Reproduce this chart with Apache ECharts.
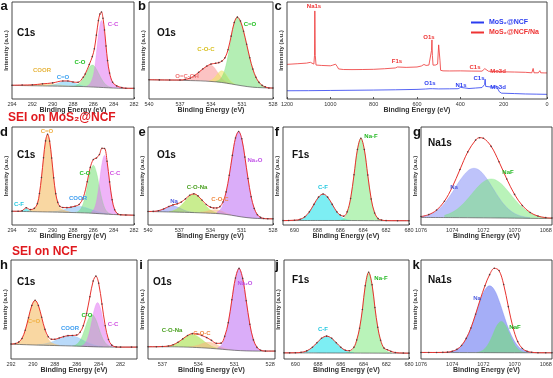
<!DOCTYPE html>
<html><head><meta charset="utf-8"><title>XPS</title>
<script src="https://cdn.jsdelivr.net/npm/echarts@6.0.0/dist/echarts.min.js"></script>
<style>html,body{margin:0;padding:0;background:#fff;}#chart{width:553px;height:378px;}</style>
</head><body><div id="chart"></div>
<script>
// ===================== DATA (binding energy eV, intensity a.u. 0-100) =====================
// (a) C1s MoS2@NCF
const aBg   = [[294,14],[292,13.7],[290,13.3],[288,13],[287,12.8],[286,12.3],[285,11.8],[284,11.3],[283,11],[282,11]];
const aEnv  = [[294,14.2],[293,14.4],[292,14.6],[291,15.6],[290,16.6],[289,18.6],[288.5,18.6],[288,17.5],[287.5,17.2],[287,22.4],[286.8,25.8],[286.4,35.5],[286.1,43.7],[285.9,51.7],[285.7,65.8],[285.5,80.8],[285.35,87.7],[285.2,89.7],[285.05,83.2],[284.9,71.1],[284.75,54.6],[284.6,39.6],[284.4,26.7],[284.1,17.2],[283.7,13.5],[283.2,11.8],[282.8,11.1],[282,11]];
const aCOOR = [[293,13.9],[292.3,14.1],[291.7,14.9],[291.1,15.6],[290.5,15.8],[289.9,15.3],[289.3,14.4],[288.7,13.6],[288,13.1]];
const aCdO  = [[290.6,13.5],[290.2,14],[289.8,15],[289.4,16.4],[289,18],[288.6,18.5],[288.2,17.9],[287.8,16.3],[287.4,14.7],[287,13.5],[286.6,12.8]];
const aCO   = [[288.4,13.1],[287.9,13.5],[287.6,14.5],[287.3,16.9],[287,21.2],[286.7,27],[286.4,32.7],[286.1,35],[285.8,32.5],[285.5,26.8],[285.2,20.8],[284.9,16.2],[284.6,13.5],[284.2,11.8]];
const aCC   = [[286.8,12.6],[286.4,15],[286.1,21],[285.9,30],[285.7,47],[285.5,66],[285.35,76],[285.2,81],[285.05,77],[284.9,67],[284.75,52],[284.6,38],[284.4,26],[284.1,17],[283.7,13.5],[283.2,11.8],[282.8,11.1]];
// (b) O1s MoS2@NCF
const bBg   = [[540,19.8],[538.5,19.6],[537,19.3],[536,19],[535,18.7],[534,18.1],[533,17.1],[532,15.4],[531,13.6],[530,12.2],[529,11.6],[528,11.3]];
const bEnv  = [[540,19.9],[539,19.7],[538,19.6],[537,19.6],[536.5,20.2],[536,21.7],[535.6,24.1],[535.2,27.4],[534.8,30.9],[534.4,33.9],[534,36],[533.55,36.8],[533.25,37.5],[532.95,39],[532.65,42.4],[532.35,50.8],[532.05,64.8],[531.75,78.9],[531.45,84.4],[531.15,80.3],[530.85,69.9],[530.55,56.4],[530.25,42.5],[529.95,30.8],[529.65,22.4],[529.35,17.1],[529.05,14],[528.75,12.5],[528.4,11.4],[528,11.3]];
const bOCOH = [[537.2,19.45],[536.5,20.2],[536,21.7],[535.6,24.1],[535.2,27.4],[534.8,30.9],[534.4,33.7],[534,34.6],[533.7,32.6],[533.4,28],[533.1,23.2],[532.8,19.5],[532.5,17.3],[532.2,16.1]];
const bCOC  = [[534.2,18.7],[533.95,19.6],[533.7,21.7],[533.45,24.8],[533.2,27.9],[532.95,29.05],[532.7,27.3],[532.45,23.5],[532.2,19.7],[531.95,17],[531.7,15.4]];
const bCdO  = [[533.55,18.2],[533.25,19.3],[532.95,22.8],[532.65,30.7],[532.35,44.5],[532.05,62.4],[531.75,78.2],[531.45,84.4],[531.15,80.3],[530.85,69.9],[530.55,56.4],[530.25,42.5],[529.95,30.8],[529.65,22.4],[529.35,17.1],[529.05,14],[528.75,12.5]];
// (c) survey
const cNa   = [[1200,35.7],[1150,36.4],[1110,37],[1092,37.8],[1085,36.8],[1076,36],[1073,45],[1071.5,90.8],[1069.5,45],[1066,35],[1040,34.6],[1000,34.2],[990,34.8],[982,35.6],[976,35.9],[968,33.4],[962,31],[940,30.4],[900,30.3],[850,30.4],[800,30.6],[750,31.2],[700,32],[690,33],[686,34.3],[682,32.6],[650,32.6],[600,33],[580,34],[568,35.6],[558,34.6],[545,35],[536,36.4],[533,50],[531,60.9],[529,45],[526,34.9],[515,35],[505,36],[500,55.8],[497,55],[494,40],[491,29.6],[480,29],[450,28.9],[400,29],[350,28.8],[300,28.7],[292,29.2],[287,31.3],[284,29.5],[270,28.6],[240,28.4],[232,29.4],[226,28.6],[200,28],[150,27.8],[100,27.5],[70,27],[64,31.5],[60,27],[40,27],[33,29.2],[29,27],[10,26.9],[0,26.9]];
const cPure = [[1200,8.5],[1100,8.6],[1000,8.8],[900,9],[800,9.2],[700,9.5],[600,9.9],[560,10.3],[540,10.6],[533,11.5],[531,12.2],[528,10.6],[500,10.4],[450,10.5],[410,10.6],[402,11.4],[399,12],[396,10.8],[360,10.8],[330,11.3],[300,11.8],[292,13],[288,15],[285.5,20.4],[283,13],[275,12.2],[245,12],[235,13.8],[230,14.6],[226,12.5],[220,7.5],[210,6],[180,5.8],[150,5.6],[100,5.2],[50,5],[0,4.8]];
// (d) C1s SEI on MoS2@NCF
const dBg   = [[294,14],[292,13.6],[290,13.2],[288,12.7],[286.5,12.2],[285,11.3],[284,10.7],[283,10.3],[282,10]];
const dEnv  = [[294,14],[293.4,14],[293,14.6],[292.6,17.6],[292.2,15.7],[291.8,17],[291.5,21.8],[291.3,32.1],[291.1,48.4],[290.9,68.6],[290.7,85.8],[290.5,92.6],[290.3,85.6],[290.1,68.4],[289.9,48.1],[289.7,32],[289.5,23.1],[289.3,19.1],[289,17.8],[288.6,17.7],[288.2,18.2],[287.8,19.2],[287.4,20.9],[287,27.8],[286.6,44.1],[286.3,58.8],[286,66.8],[285.7,68.3],[285.4,71.9],[285.15,78.2],[284.9,78.1],[284.65,65],[284.4,44],[284.15,25.7],[283.9,15.6],[283.6,11.3],[283.3,10.4],[282.8,10.2],[282,10]];
const dCF   = [[293.2,13.75],[292.9,14.9],[292.6,16.7],[292.3,14.8],[292,13.6]];
const dCdO  = [[292.4,14.2],[292,15.5],[291.7,17.5],[291.5,21.8],[291.3,32.1],[291.1,48.4],[290.9,68.6],[290.7,85.8],[290.5,92.6],[290.3,85.6],[290.1,68.3],[289.9,48],[289.7,31.8],[289.5,22],[289.3,17.5],[289,15.5],[288.6,14],[288.2,13]];
const dCOOR = [[290.4,13.4],[289.8,13.65],[289.2,14.7],[288.6,16.55],[288,18.3],[287.4,19],[286.8,17.9],[286.2,15.7],[285.6,13.5],[285,11.95],[284.4,10.9]];
const dCO   = [[287.8,12.9],[287.5,13.8],[287.2,17.1],[286.9,25.3],[286.6,39.1],[286.3,54.3],[286,61],[285.7,53.9],[285.4,38.5],[285.1,24.3],[284.8,15.6],[284.5,12.2],[284.2,11]];
const dCC   = [[286.2,13],[285.9,16.9],[285.65,26.6],[285.4,43.8],[285.15,62.6],[284.9,71],[284.65,62.3],[284.4,43.05],[284.15,25.5],[283.9,15.6],[283.6,11.3],[283.3,10.45]];
// (e) O1s SEI on MoS2@NCF
const eBg   = [[540,13.8],[538,13.3],[536,12.8],[534,12],[533,11.4],[532,10],[531,8.2],[530,7],[529,6.5],[528,6.3]];
const eEnv  = [[540,13.8],[539.5,13.9],[539,14.6],[538.5,16.4],[538,18.9],[537.6,20.5],[537.2,21.6],[536.8,23.5],[536.4,26.7],[536,30.3],[535.6,31.8],[535.2,29.7],[534.8,25.2],[534.4,20.9],[534,18.2],[533.7,17.4],[533.4,17.4],[533.1,18.7],[532.8,23.4],[532.5,33.8],[532.2,50.7],[531.9,71],[531.6,88.7],[531.3,95.4],[531,88],[530.7,69.3],[530.4,47.4],[530.1,28.9],[529.8,16.9],[529.5,10.5],[529.2,7.8],[528.9,6.7],[528.5,6.4],[528,6.3]];
const eNa   = [[539.6,13.9],[539.1,14.35],[538.6,15.95],[538.1,18.2],[537.6,19.3],[537.1,18],[536.6,15.45],[536.1,13.65],[535.6,12.9]];
const eCONa = [[538,13.6],[537.6,14.6],[537.2,16.6],[536.8,20.1],[536.4,24.7],[536,29.5],[535.6,31.5],[535.2,29.5],[534.8,24.5],[534.4,19.2],[534,15.3],[533.6,13],[533.2,11.8]];
const eCOC  = [[535,12.95],[534.5,13.7],[534,15],[533.5,15.6],[533,14.4],[532.5,12.1],[532,10.4]];
const eNa2O = [[533.4,12.9],[533.1,15.2],[532.8,21],[532.5,32.4],[532.2,50],[531.9,70.8],[531.6,88.6],[531.3,95.4],[531,88],[530.7,69.3],[530.4,47.4],[530.1,28.9],[529.8,16.9],[529.5,10.5],[529.2,7.8],[528.9,6.7]];
// (f) F1s SEI on MoS2@NCF
const fBg   = [[691,4.5],[688,4.6],[686,4.6],[684,4.5],[682,4.4],[680,4.4]];
const fEnv  = [[691,4.5],[690.5,4.6],[690,4.9],[689.5,5.8],[689.1,8.3],[688.7,13.4],[688.3,21],[687.9,28.4],[687.5,31.6],[687.1,28.4],[686.7,21],[686.3,13.4],[686,10.1],[685.7,9],[685.4,13.4],[685.1,27],[684.8,51.2],[684.5,77.1],[684.2,88.5],[683.9,77],[683.6,51],[683.3,26.5],[683,12.3],[682.7,6.5],[682.4,5],[682,4.5],[681,4.4],[680,4.4]];
const fCF   = [[690,4.8],[689.5,5.7],[689.1,8.2],[688.7,13.3],[688.3,20.9],[687.9,28.3],[687.5,31.5],[687.1,28.3],[686.7,20.9],[686.3,13.3],[685.9,8.2],[685.5,5.7],[685.1,4.8]];
const fNaF  = [[686.3,4.6],[686,5],[685.7,6.5],[685.4,12.3],[685.1,26.5],[684.8,51],[684.5,77],[684.2,88.5],[683.9,77],[683.6,51],[683.3,26.5],[683,12.3],[682.7,6.5],[682.4,5],[682.1,4.5]];
// (g) Na1s SEI on MoS2@NCF
const gBg   = [[1076,7.7],[1074,7.55],[1072,7.3],[1070,7],[1068,6.7],[1067.6,6.7]];
const gEnv  = [[1076,8.6],[1075.5,10.6],[1075,15.2],[1074.5,24.2],[1074,38.5],[1073.5,56.7],[1073,74.6],[1072.5,86.6],[1072.25,89.1],[1072,88.5],[1071.5,80.2],[1071,64.6],[1070.5,46.9],[1070,31.2],[1069.5,19.8],[1069,12.8],[1068.5,9.1],[1068,7.5],[1067.6,7.1]];
const gNa   = [[1076,8.6],[1075.5,10.4],[1075,14.4],[1074.5,22],[1074,33.1],[1073.5,45.6],[1073,55.2],[1072.6,57.9],[1072.2,55.1],[1071.8,47.6],[1071.4,37.8],[1071,27.9],[1070.6,19.6],[1070.2,13.8],[1069.8,10.3],[1069.4,8.4],[1069,7.45]];
const gNaF  = [[1074.5,9.8],[1074,12.9],[1073.5,18.6],[1073,26.8],[1072.5,36.3],[1072,44],[1071.5,47],[1071,43.9],[1070.5,36],[1070,26.4],[1069.5,18],[1069,12.3],[1068.5,9],[1068,7.5],[1067.6,7]];
// (h) C1s SEI on NCF
const hBg   = [[292,15],[290,14.2],[288,13.6],[286,13],[284,12.2],[282,12],[280.5,12]];
const hEnv  = [[292,15.1],[291.6,15.6],[291.3,17],[291,20.7],[290.7,29.1],[290.4,41.7],[290.1,54.1],[289.8,59.3],[289.5,54.1],[289.2,42.1],[288.9,29.9],[288.6,22.5],[288.3,19.9],[288,19.9],[287.6,21.2],[287.2,22.6],[286.8,23.6],[286.4,23.8],[286,24.2],[285.7,26.9],[285.4,33.6],[285.1,46],[284.8,62.9],[284.5,78.8],[284.25,83.7],[284,76.6],[283.7,55.6],[283.4,33.6],[283.1,19.7],[282.8,14],[282.4,12.2],[282,12],[281,12],[280.5,12]];
const hCdO  = [[291.9,15.2],[291.6,15.6],[291.3,17],[291,20.7],[290.7,29.1],[290.4,41.7],[290.1,54],[289.8,59.1],[289.5,53.7],[289.2,41.3],[288.9,28.5],[288.6,20.2],[288.3,16.4],[288,15],[287.6,14]];
const hCOOR = [[289.6,14.4],[289.1,14.85],[288.6,16.1],[288.1,18],[287.6,20.7],[287.1,22.8],[286.6,23.7],[286.1,22.5],[285.6,20],[285.1,17],[284.6,14.7],[284.1,13.15],[283.6,12.5]];
const hCO   = [[286.4,13.2],[286.1,14.2],[285.8,17.1],[285.5,23.1],[285.2,32.3],[284.9,41.2],[284.6,44.7],[284.3,40.8],[284,31.9],[283.7,22.6],[283.4,16.5],[283.1,13.5],[282.8,12.4]];
const hCC   = [[285.6,12.9],[285.35,14.4],[285.1,18.4],[284.85,26.9],[284.6,39.5],[284.35,51.8],[284.1,57],[283.85,51.7],[283.6,39.4],[283.35,26.8],[283.1,18.2],[282.85,14.1],[282.6,12.6]];
// (i) O1s SEI on NCF
const iBg   = [[538.2,12.4],[536,12.3],[534.5,11.8],[533,10.8],[532,9.8],[531,8.8],[530,8.2],[529,8],[527.6,8]];
const iEnv  = [[538.2,12.4],[537.5,12.4],[537,12.6],[536.5,13.1],[536.1,14.4],[535.7,16.9],[535.3,20.3],[534.9,23.7],[534.5,25.6],[534.1,25.3],[533.7,23.7],[533.3,21.6],[532.9,18.8],[532.5,15.8],[532.1,16],[531.8,22.9],[531.5,36.7],[531.2,59.8],[530.9,81.7],[530.6,91.5],[530.3,81.4],[530,58.8],[529.7,35.1],[529.4,19.3],[529.1,11.7],[528.8,8.9],[528.4,8],[527.6,8]];
const iCONa = [[536.9,12.55],[536.5,13],[536.1,14.3],[535.7,16.8],[535.3,20.25],[534.9,23.5],[534.5,24.8],[534.1,23.1],[533.7,19.6],[533.3,15.8],[532.9,12.9],[532.5,11.2],[532.1,10.2]];
const iCOC  = [[534.85,12.2],[534.5,12.6],[534.15,13.6],[533.8,15],[533.45,16.45],[533.1,16.8],[532.75,15.85],[532.4,13.9],[532.05,11.85],[531.7,10.3],[531.35,9.45]];
const iNa2O = [[532.4,11.1],[532.1,13.6],[531.8,20.8],[531.5,36.3],[531.2,59.4],[530.9,81.9],[530.6,91.5],[530.3,81.6],[530,58.6],[529.7,35.1],[529.4,19.3],[529.1,11.7],[528.8,8.9],[528.5,8.2]];
// (j) F1s SEI on NCF
const jBg   = [[691,6.2],[688,6.1],[685,6],[682,5.9],[680,5.9]];
const jEnv  = [[691,6.2],[690.5,6.2],[690,6.3],[689.5,6.7],[689,8.2],[688.5,11.9],[688.1,16.4],[687.7,20.9],[687.25,23.1],[686.8,20.9],[686.4,16.4],[686,11.9],[685.6,8.8],[685.25,8.4],[684.85,11.9],[684.6,19.2],[684.35,31.1],[684.1,50],[683.85,74],[683.55,87.6],[683.25,75],[683,52],[682.75,32],[682.5,19],[682.2,11],[681.9,9.3],[681.6,7.8],[681.2,6.5],[680.5,6],[680,5.9]];
const jCF   = [[689.65,6.4],[689.25,7.1],[688.85,8.9],[688.45,12.3],[688.05,16.9],[687.65,21.2],[687.25,23],[686.85,21.2],[686.45,16.9],[686.05,12.3],[685.65,8.9],[685.25,7.1],[684.85,6.3]];
const jNaF  = [[685.55,6.2],[685.15,7.5],[684.85,11.5],[684.6,19],[684.35,31],[684.1,50],[683.85,74],[683.55,87.6],[683.25,75],[683,52],[682.75,32],[682.5,19],[682.2,11],[681.9,7.5],[681.5,6.2]];
// (k) Na1s SEI on NCF
const kBg   = [[1076,6.6],[1074,6.5],[1072,6.4],[1070,6.3],[1068,6.3],[1067.6,6.3]];
const kEnv  = [[1076,6.6],[1075.5,6.6],[1075,6.6],[1074.6,6.7],[1074.3,6.9],[1074,7.8],[1073.7,9.7],[1073.4,13.7],[1073.1,20.8],[1072.8,31.3],[1072.5,45.2],[1072.2,60.2],[1071.9,74],[1071.6,85.2],[1071.3,91.6],[1071,89.4],[1070.7,75.3],[1070.4,52.9],[1070.1,31.8],[1069.8,17.6],[1069.5,10.6],[1069.2,7.8],[1068.9,6.8],[1068.5,6.35],[1068,6.3],[1067.6,6.3]];
const kNa   = [[1074.3,6.9],[1074,7.8],[1073.7,9.7],[1073.4,13.7],[1073.1,20.8],[1072.8,31.3],[1072.5,45],[1072.2,59.1],[1071.9,69.9],[1071.6,74],[1071.3,69.9],[1071,59.1],[1070.7,45],[1070.4,31.2],[1070.1,20.6],[1069.8,13.5],[1069.5,9.5],[1069.2,7.6],[1068.9,6.7]];
const kNaF  = [[1072.4,6.7],[1072.15,7.8],[1071.9,10.7],[1071.63,16.7],[1071.37,25.6],[1071.11,34.3],[1070.85,38],[1070.59,34.2],[1070.33,25.5],[1070.07,16.6],[1069.81,10.6],[1069.55,7.7],[1069.3,6.6]];

// tick label values
const ticksC1s  = [294,292,290,288,286,284,282];
const ticksO1s  = [540,537,534,531,528];
const ticksSurv = [1200,1000,800,600,400,200,0];
const ticksF1s  = [690,688,686,684,682,680];
const ticksNa1s = [1076,1074,1072,1070,1068];
const ticksC1sB = [292,290,288,286,284,282];
const ticksO1sB = [537,534,531,528];

// ===================== STYLE / LAYOUT =====================
const FONT = '"Liberation Sans", Arial, Helvetica, sans-serif';
const C = {
  mag:['rgba(226,118,242,0.55)','#d04ce0'], grn:['rgba(105,222,105,0.5)','#22c022'],
  cyb:['rgba(100,200,245,0.5)','#3aa0f0'], yel:['rgba(245,212,110,0.55)','#e6b33a'],
  sal:['rgba(250,145,145,0.55)','#f07070'], ylw:['rgba(240,228,100,0.6)','#d8c020'],
  org:['rgba(245,190,105,0.62)','#f0b040'], blu:['rgba(115,182,245,0.5)','#3c9cf0'],
  cya:['rgba(45,228,235,0.62)','#22c8e0'], pur:['rgba(196,122,245,0.62)','#c050e8'],
  nab:['rgba(125,135,245,0.5)','#5562e0'], lgr:['rgba(165,225,70,0.6)','#4aa020'],
  oco:['rgba(250,178,125,0.55)','#f08a40'], nfg:['rgba(115,232,115,0.5)','#22b822']
};
const RED = ['', '#ee3333'], BLUE = ['', '#2a3cf0'];
const panels = [
 {L:'a',lp:[4,6],g:[12,2,122,97],x:[282,294],t:ticksC1s,title:['C1s',5,31.5],bg:aBg,env:aEnv,
  comps:[[aCOOR,C.yel],[aCdO,C.cyb],[aCO,C.grn],[aCC,C.mag]],
  labels:[['COOR',30,68,C.yel],['C=O',51,75,C.cyb],['C-O',68,60,C.grn],['C-C',101,22,C.mag]]},
 {L:'b',lp:[142,6],g:[149,2,124,97],x:[528,540],t:ticksO1s,title:['O1s',8,31.5],bg:bBg,env:bEnv,
  comps:[[bOCOH,C.sal],[bCOC,C.ylw],[bCdO,C.grn]],
  labels:[['O=C-OH',38,74,C.sal],['C-O-C',57,47,C.ylw],['C=O',101,22,C.grn]]},
 {L:'c',lp:[278,6],g:[287,2,260,97],x:[0,1200],t:ticksSurv,survey:true,
  labels:[['Na1s',27,4,RED],['F1s',110,59,RED],['O1s',142,35,RED],['C1s',188,65,RED],['Mo3d',211,69,RED],
          ['O1s',143,81,BLUE],['N1s',174,83,BLUE],['C1s',192,76,BLUE],['Mo3d',211,85,BLUE]]},
 {L:'d',lp:[4,132],g:[12,127,122,98],x:[282,294],t:ticksC1s,title:['C1s',5,28],bg:dBg,env:dEnv,
  comps:[[dCF,C.cya],[dCOOR,C.blu],[dCdO,C.org],[dCO,C.grn],[dCC,C.mag]],
  labels:[['C=O',35,4,C.org],['C-F',7,77,C.cya],['COOR',66,71,C.blu],['C-O',73,46,C.grn],['C-C',103,46,C.mag]]},
 {L:'e',lp:[142,132],g:[148,127,125,98],x:[528,540],t:ticksO1s,title:['O1s',9,28],bg:eBg,env:eEnv,
  comps:[[eNa,C.nab],[eCONa,C.lgr],[eCOC,C.oco],[eNa2O,C.pur]],
  labels:[['Na',26,74,C.nab],['C-O-Na',49,60,C.lgr],['C-O-C',72,72,C.oco],['Na\u2082O',107,33,C.pur]]},
 {L:'f',lp:[277,132],g:[283,127,126,98],x:[680,691],t:ticksF1s,title:['F1s',9,28],bg:fBg,env:fEnv,
  comps:[[fCF,C.cya],[fNaF,C.nfg]],
  labels:[['C-F',40,60,C.cya],['Na-F',88,9,C.nfg]]},
 {L:'g',lp:[417,132],g:[421,127,131,98],x:[1067.6,1076],t:ticksNa1s,title:['Na1s',7,16],bg:gBg,env:gEnv,
  comps:[[gNa,C.nab],[gNaF,C.nfg]],
  labels:[['Na',33,60,C.nab],['NaF',87,45,C.nfg]]},
 {L:'h',lp:[4,265],g:[11,260,126,99],x:[280.5,292],t:ticksC1sB,title:['C1s',6,22],bg:hBg,env:hEnv,
  comps:[[hCOOR,C.blu],[hCdO,C.org],[hCO,C.grn],[hCC,C.mag]],
  labels:[['C=O',23,61,C.org],['COOR',59,68,C.blu],['C-O',76,55,C.grn],['C-C',102,64,C.mag]]},
 {L:'i',lp:[141,265],g:[148,260,127,99],x:[527.6,538.2],t:ticksO1sB,title:['O1s',5,22],bg:iBg,env:iEnv,
  comps:[[iCONa,C.lgr],[iCOC,C.oco],[iNa2O,C.pur]],
  labels:[['C-O-Na',24,70,C.lgr],['C-O-C',54,73,C.oco],['Na\u2082O',97,23,C.pur]]},
 {L:'j',lp:[277,265],g:[284,260,125,99],x:[680,691],t:ticksF1s,title:['F1s',8,20],bg:jBg,env:jEnv,
  comps:[[jCF,C.cya],[jNaF,C.nfg]],
  labels:[['C-F',39,69,C.cya],['Na-F',97,18,C.nfg]]},
 {L:'k',lp:[416,265],g:[421,260,131,99],x:[1067.6,1076],t:ticksNa1s,title:['Na1s',7,20],bg:kBg,env:kEnv,
  comps:[[kNa,['rgba(100,115,242,0.58)','#5060e0']],[kNaF,['rgba(110,228,110,0.55)','#22b822']]],
  labels:[['Na',56,38,C.nab],['NaF',94,67,C.nfg]]}
];

// ===================== BUILD OPTION =====================
const grid=[], xAxis=[], yAxis=[], series=[], graphic=[];
panels.forEach((p,i)=>{
  grid.push({left:p.g[0],top:p.g[1],width:p.g[2],height:p.g[3],show:true,borderColor:'#333',borderWidth:0.9,
             backgroundColor:'rgba(0,0,0,0)',z:10,containLabel:false,outerBoundsMode:'none'});
  xAxis.push({gridIndex:i,type:'value',inverse:true,min:p.x[0],max:p.x[1],
    splitLine:{show:false},axisLine:{show:false},
    axisTick:{show:true,inside:true,length:2,customValues:p.t,lineStyle:{color:'#333',width:0.8}},
    axisLabel:{show:true,customValues:p.t,fontSize:5.5,color:'#333',margin:2.5,fontFamily:FONT,hideOverlap:false,
      formatter:(v)=>String(Math.round(v))},
    name:'Binding Energy (eV)',nameLocation:'middle',nameGap:7.5,nameMoveOverlap:false,
    nameTextStyle:{fontSize:7,fontWeight:'bold',color:'#333',fontFamily:FONT}});
  yAxis.push({gridIndex:i,type:'value',min:0,max:100,splitLine:{show:false},axisLine:{show:false},
    axisTick:{show:false},axisLabel:{show:false},
    name:'Intensity (a.u.)',nameLocation:'middle',nameGap:2.5,nameMoveOverlap:false,
    nameTextStyle:{fontSize:6,fontWeight:'bold',color:'#333',fontFamily:FONT}});
  if(p.survey){
    series.push({name:'MoS\u2082@NCF',type:'line',xAxisIndex:i,yAxisIndex:i,data:cPure,showSymbol:false,
      lineStyle:{color:'#2a3cf0',width:0.8},itemStyle:{color:'#2a3cf0'},z:4,silent:true});
    series.push({name:'MoS\u2082@NCF/Na',type:'line',xAxisIndex:i,yAxisIndex:i,data:cNa,showSymbol:false,
      lineStyle:{color:'#ee3333',width:0.8},itemStyle:{color:'#ee3333'},z:4,silent:true});
  } else {
    p.comps.forEach(([d,col])=>{
      series.push({type:'line',xAxisIndex:i,yAxisIndex:i,data:d,smooth:0.4,showSymbol:false,
        lineStyle:{color:col[0],width:0.5},areaStyle:{color:col[0],opacity:1},z:2,silent:true});
    });
    series.push({type:'line',xAxisIndex:i,yAxisIndex:i,data:p.bg,smooth:0.3,showSymbol:false,
      lineStyle:{color:'#555',width:0.7},areaStyle:{color:'#ffffff',opacity:1},z:3,silent:true});
    series.push({type:'line',xAxisIndex:i,yAxisIndex:i,data:p.env,smooth:0.35,showSymbol:true,symbol:'circle',symbolSize:1.6,
      itemStyle:{color:'#5a3a3a'},lineStyle:{color:'#e8322e',width:1},z:4,silent:true});
    graphic.push({type:'text',x:p.g[0]+p.title[1],y:p.g[1]+p.title[2],z:20,
      style:{text:p.title[0],font:'bold 10px '+FONT,fill:'#111',align:'left',verticalAlign:'middle'}});
  }
  p.labels.forEach(([txt,dx,dy,col])=>{
    graphic.push({type:'text',x:p.g[0]+dx,y:p.g[1]+dy,z:20,
      style:{text:txt,font:'bold 6px '+FONT,fill:col[1],align:'center',verticalAlign:'middle'}});
  });
  graphic.push({type:'text',x:p.lp[0],y:p.lp[1],z:20,
    style:{text:p.L,font:'bold 13px '+FONT,fill:'#111',align:'center',verticalAlign:'middle'}});
});
graphic.push({type:'text',x:8,y:118,z:20,style:{text:'SEI on MoS\u2082@NCF',font:'bold 12px '+FONT,fill:'#e0191e',align:'left',verticalAlign:'middle'}});
graphic.push({type:'text',x:12,y:252,z:20,style:{text:'SEI on NCF',font:'bold 12px '+FONT,fill:'#e0191e',align:'left',verticalAlign:'middle'}});

const option = {
  animation:false,
  backgroundColor:'#ffffff',
  textStyle:{fontFamily:FONT},
  grid, xAxis, yAxis, series, graphic,
  legend:{show:true,left:471,top:19,orient:'vertical',itemWidth:13,itemHeight:2,itemGap:3,icon:'rect',padding:0,
    textStyle:{fontSize:7,fontWeight:'bold',fontFamily:FONT},
    data:[{name:'MoS\u2082@NCF',textStyle:{color:'#2a3cf0'}},{name:'MoS\u2082@NCF/Na',textStyle:{color:'#ee3333'}}]}
};
const chart = echarts.init(document.getElementById('chart'),null,{renderer:'canvas'});
chart.setOption(option);
</script></body></html>
